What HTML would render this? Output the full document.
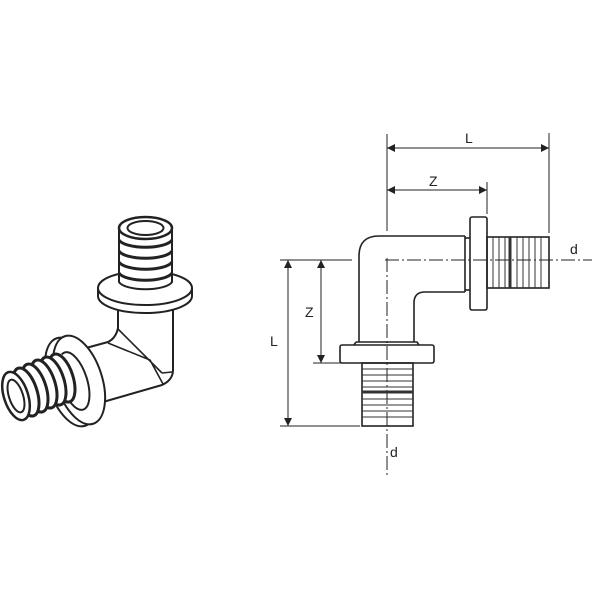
<!DOCTYPE html>
<html><head><style>body{margin:0;background:#fff}svg{display:block}</style></head>
<body>
<svg width="600" height="600" viewBox="0 0 600 600" xmlns="http://www.w3.org/2000/svg" font-family="Liberation Sans, sans-serif">
<defs>
<marker id="a" viewBox="0 0 10 10" refX="10" refY="5" markerWidth="12" markerHeight="8" orient="auto-start-reverse" markerUnits="userSpaceOnUse"><path d="M0,0L10,5L0,10z" fill="#222"/></marker>
</defs>
<g fill="none" stroke="#222" stroke-width="1">
<line x1="387" y1="258" x2="387" y2="475" stroke-dasharray="14,3,2,3"/>
<line x1="385" y1="260" x2="592" y2="260" stroke-dasharray="14,3,2,3"/>
<line x1="387" y1="134" x2="387" y2="231"/>
<line x1="549" y1="133" x2="549" y2="233"/>
<line x1="487" y1="182" x2="487" y2="214"/>
<line x1="280" y1="260" x2="352" y2="260"/>
<line x1="313" y1="363" x2="360" y2="363"/>
<line x1="280" y1="426" x2="360" y2="426"/>
<line x1="387" y1="148" x2="549" y2="148" marker-start="url(#a)" marker-end="url(#a)"/>
<line x1="387" y1="190" x2="487" y2="190" marker-start="url(#a)" marker-end="url(#a)"/>
<line x1="288" y1="260" x2="288" y2="426" marker-start="url(#a)" marker-end="url(#a)"/>
<line x1="321" y1="260" x2="321" y2="363" marker-start="url(#a)" marker-end="url(#a)"/>
</g>
<g fill="none" stroke="#222" stroke-width="1.6">
<path d="M359,342 L359,256 Q359,236 379,236 L465,236"/>
<path d="M414,342 L414,303 Q414,292 425,292 L465,292"/>
<path d="M465,236 L465,292 M359,342 L414,342 M356,342 L417,342 L419,345 M356,342 L354,345"/>
<rect x="470" y="217" width="17" height="93" rx="2"/>
<line x1="465" y1="238" x2="470" y2="238"/><line x1="465" y1="290" x2="470" y2="290"/>
<rect x="487" y="237" width="62" height="51"/>
<rect x="340" y="345" width="94" height="18" rx="2"/>
<rect x="362" y="363" width="51" height="63"/>
</g>
<g stroke="#333" stroke-width="1">
<path d="M493,237v51M499,237v51M505,237v51M511,237v51M517,237v51M523,237v51M529,237v51M535,237v51M541,237v51"/>
<path d="M362,369h51M362,375h51M362,381h51M362,387h51M362,393h51M362,399h51M362,405h51M362,411h51M362,417h51"/>
<line x1="510" y1="237" x2="510" y2="288" stroke-width="3"/>
<line x1="362" y1="392" x2="413" y2="392" stroke-width="3"/>
</g>
<g font-size="14" fill="#222">
<text x="465" y="143">L</text>
<text x="429" y="186">Z</text>
<text x="270" y="346">L</text>
<text x="305" y="317">Z</text>
<text x="570" y="254">d</text>
<text x="390" y="457">d</text>
</g>
<!-- isometric fitting -->
<g fill="#fff" stroke="#222" stroke-width="2" stroke-linejoin="round">
<!-- elbow body -->
<path d="M118,305 L118,328 Q116,338 108,342 L86,348 L96,404 L162,385 Q173,380 173,370 L173,305 Z"/>
<path d="M118,329 L162,373 M108,343 L150,360 L163,384 M162,373 L172,372" fill="none" stroke-width="1.6"/>
<!-- top flange -->
<path d="M98,288 L98,296 A47,17 0 0 0 192,296 L192,288" />
<ellipse cx="145" cy="288" rx="47" ry="17"/>
<!-- top threads -->
<path d="M119,228 L119,282 A27,9 0 0 0 172,282 L172,228"/>
<g fill="none" stroke-width="3">
<path d="M119,240 A27,9 0 0 0 172,240"/><path d="M119,251 A27,9 0 0 0 172,251"/>
<path d="M119,262 A27,9 0 0 0 172,262"/><path d="M119,273 A27,9 0 0 0 172,273"/>
</g>
<ellipse cx="145.5" cy="228" rx="26.5" ry="11" stroke-width="2.5"/>
<ellipse cx="145.5" cy="228" rx="18" ry="7"/>
<!-- left flange -->
<ellipse cx="71" cy="382" rx="23" ry="46" transform="rotate(-18 71 382)"/>
<ellipse cx="79" cy="380" rx="23" ry="46" transform="rotate(-18 79 380)"/>
<ellipse cx="74" cy="381" rx="13" ry="30" transform="rotate(-18 74 381)"/>
<!-- left threads -->
<path d="M10,372 L62,354 L72,400 L20,420 Z" stroke="none"/>
<g stroke-width="3">
<ellipse cx="62" cy="378" rx="11" ry="25" transform="rotate(-18 62 378)"/>
<ellipse cx="53" cy="381" rx="11" ry="25" transform="rotate(-18 53 381)"/>
<ellipse cx="44" cy="384" rx="11" ry="25" transform="rotate(-18 44 384)"/>
<ellipse cx="35" cy="388" rx="11" ry="25" transform="rotate(-18 35 388)"/>
<ellipse cx="26" cy="392" rx="11" ry="25" transform="rotate(-18 26 392)"/>
</g>
<ellipse cx="16" cy="396" rx="12" ry="25" transform="rotate(-18 16 396)" stroke-width="2.5"/>
<ellipse cx="16" cy="396" rx="7" ry="17" transform="rotate(-18 16 396)"/>
</g>
</svg>
</body></html>
